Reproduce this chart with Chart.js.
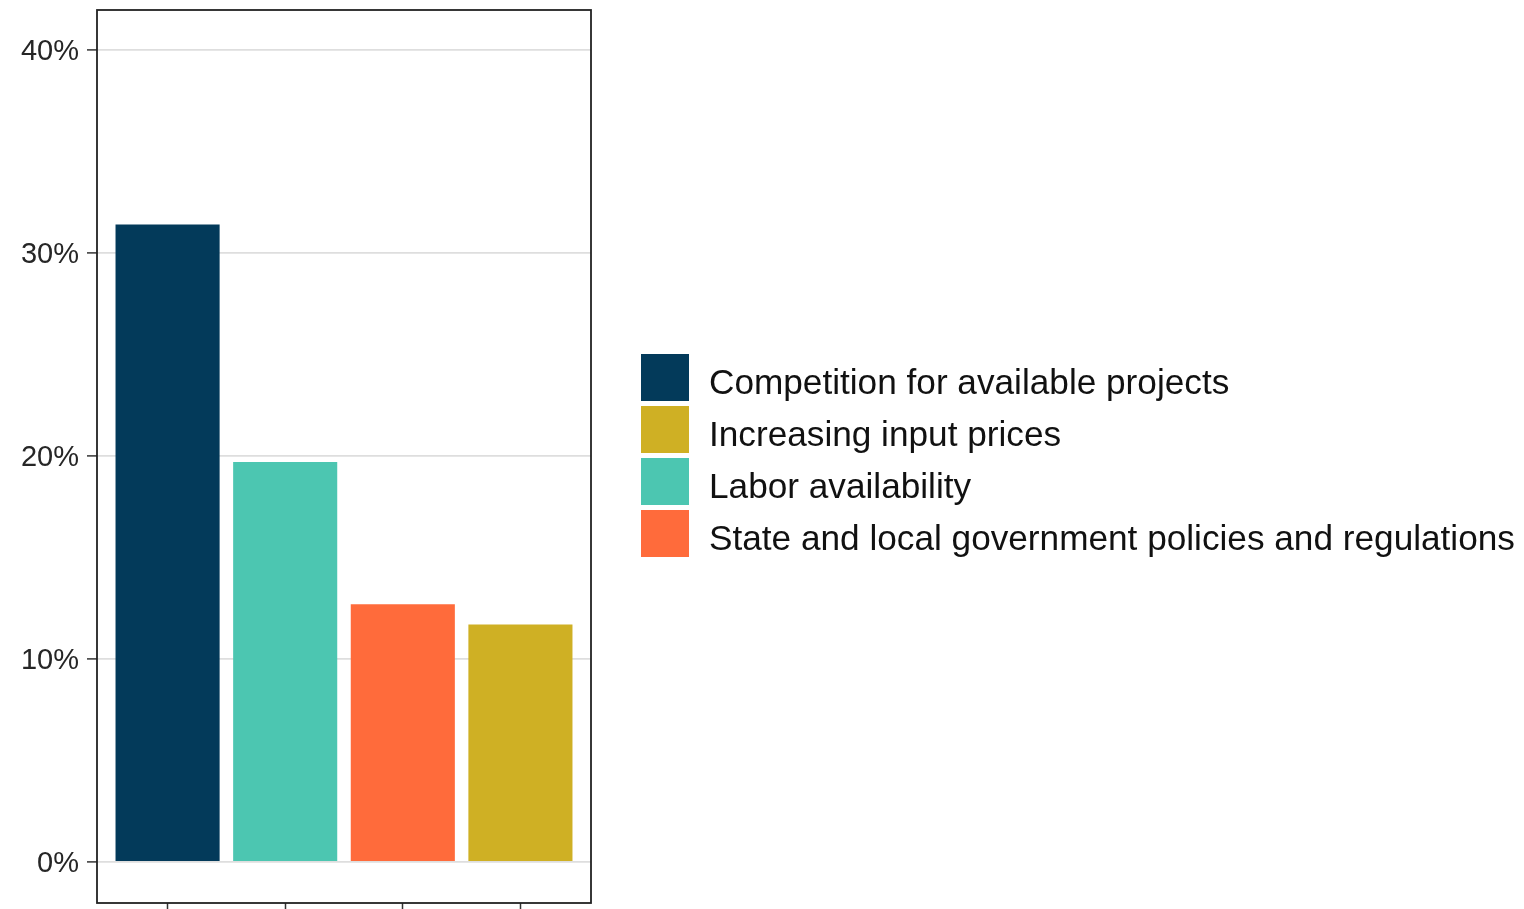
<!DOCTYPE html>
<html>
<head>
<meta charset="utf-8">
<script src="https://cdn.jsdelivr.net/npm/chart.js@4.4.1/dist/chart.umd.min.js"></script>
<style>
  html, body { margin: 0; padding: 0; background: #ffffff; }
  #wrap { position: relative; width: 1524px; height: 909px; overflow: hidden; }
  #c { position: absolute; left: 0; top: 0; }
  #legend { position: absolute; left: 641px; top: 354px; font-family: "Liberation Sans", Arial, sans-serif; font-size: 35.2px; color: #111; }
  .item { display: flex; align-items: center; height: 47px; margin-bottom: 5px; white-space: nowrap; }
  .box { width: 48px; height: 47px; margin-right: 20px; flex: none; }
  .txt { position: relative; top: 4px; }
</style>
</head>
<body>
<div id="wrap">
  <canvas id="c" width="1524" height="909"></canvas>
  <div id="legend"></div>
</div>
<script>
// Legend (series) order and values
const categories = [
  'Competition for available projects',
  'Increasing input prices',
  'Labor availability',
  'State and local government policies and regulations'
];
const values = [31.4, 11.7, 19.7, 12.7];
const colors = ['#033a5a', '#cfb024', '#4cc6b1', '#ff6b3b'];
// Order of bars along the x axis (tallest first)
const barOrder = [
  'Competition for available projects',
  'Labor availability',
  'State and local government policies and regulations',
  'Increasing input prices'
];
const yTicks = [0, 10, 20, 30, 40];

const datasets = categories.map((name, i) => ({
  label: name,
  data: [{ x: barOrder.indexOf(name) + 1, y: values[i] }],
  backgroundColor: colors[i],
  borderWidth: 0,
  grouped: false,
  barPercentage: 0.885,
  categoryPercentage: 1.0
}));

const frame = {
  id: 'frame',
  afterDraw(chart) {
    const { ctx, chartArea: a } = chart;
    ctx.save();
    ctx.strokeStyle = '#222';
    ctx.lineWidth = 1.8;
    ctx.strokeRect(a.left, a.top, a.right - a.left, a.bottom - a.top);
    ctx.restore();
  }
};

new Chart(document.getElementById('c'), {
  type: 'bar',
  data: { datasets },
  options: {
    responsive: false,
    animation: false,
    layout: { padding: { top: 10, right: 933, left: 0, bottom: 0 } },
    plugins: { legend: { display: false }, tooltip: { enabled: false } },
    scales: {
      x: {
        type: 'linear',
        offset: false,
        min: 0.4,
        max: 4.6,
        afterBuildTicks(s) { s.ticks = barOrder.map((_, i) => ({ value: i + 1 })); },
        afterFit(s) { s.height = 6; s.paddingLeft = 0; s.paddingRight = 0; },
        ticks: { display: false },
        grid: { offset: false, drawOnChartArea: false, drawTicks: true, tickLength: 6, tickColor: '#333', tickWidth: 1.5 },
        border: { display: false }
      },
      y: {
        min: -2.02,
        max: 41.97,
        afterBuildTicks(s) { s.ticks = yTicks.map(v => ({ value: v })); },
        afterFit(s) { s.width = 97; s.paddingTop = 0; s.paddingBottom = 0; },
        ticks: {
          callback: v => v + '%',
          color: '#262626',
          padding: 8,
          labelOffset: 2,
          font: { family: '"Liberation Sans", Arial, sans-serif', size: 29 }
        },
        grid: { color: '#dedede', lineWidth: 1.8, tickLength: 10, tickColor: '#333', tickWidth: 1.5 },
        border: { display: false }
      }
    }
  },
  plugins: [frame]
});

const lg = document.getElementById('legend');
categories.forEach((name, i) => {
  const d = document.createElement('div');
  d.className = 'item';
  const b = document.createElement('span');
  b.className = 'box';
  b.style.background = colors[i];
  const t = document.createElement('span');
  t.className = 'txt';
  t.textContent = name;
  d.appendChild(b); d.appendChild(t);
  lg.appendChild(d);
});
</script>
</body>
</html>
